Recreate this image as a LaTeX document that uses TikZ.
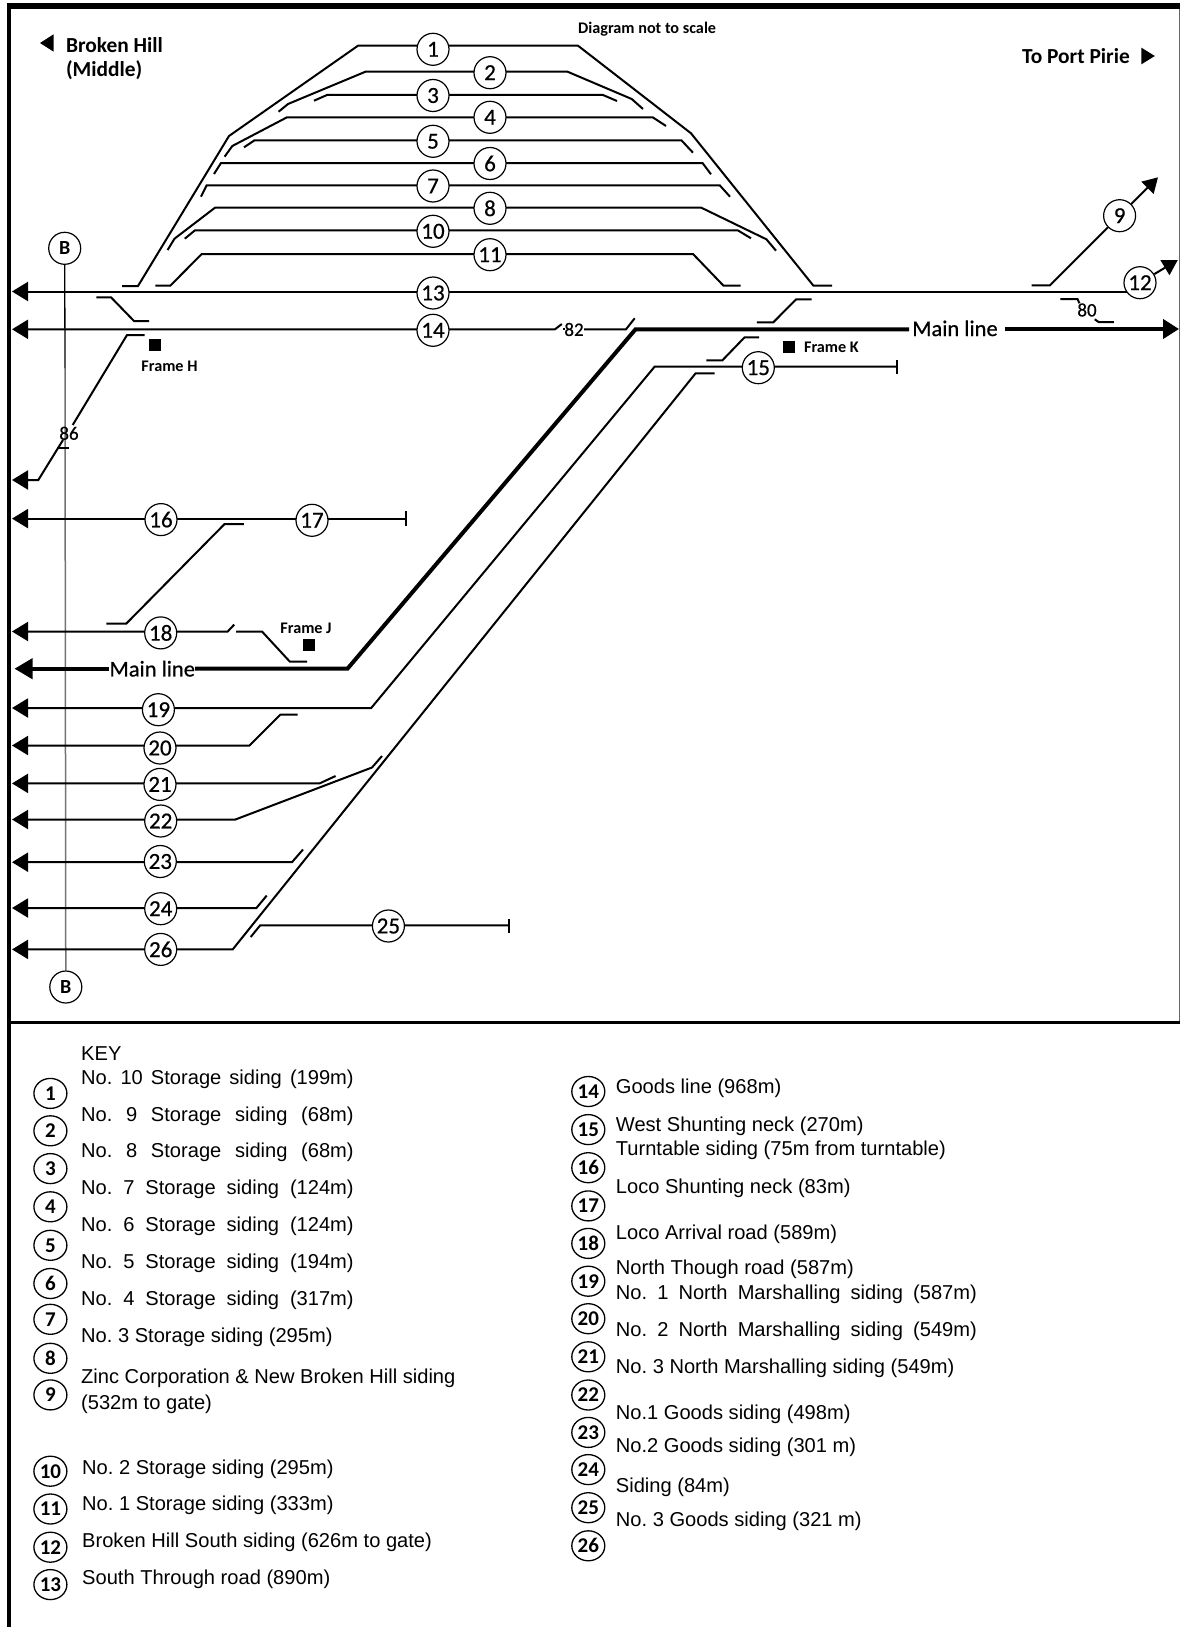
\documentclass[tikz,border=0pt]{standalone}
\usepackage{fontspec}
\setmainfont{Liberation Sans}
\newfontfamily\lab{Carlito}
\newfontfamily\labm[FakeBold=0.6]{Carlito}
\frenchspacing
\usetikzlibrary{arrows.meta,backgrounds,shapes.geometric}
\tikzset{
  trk/.style={draw=black,line width=2pt,line join=miter},
  thick trk/.style={draw=black,line width=4pt},
  larr/.style={{Triangle[length=16pt,width=19pt]}-},
  rarr/.style={-{Triangle[length=16pt,width=19pt]}},
  smallarr/.style={-{Triangle[length=15pt,width=17pt]}},
  numc/.style={circle,draw=black,fill=white,line width=1.2pt,inner sep=0pt,minimum size=32pt,font=\labm\fontsize{23}{23}\selectfont},
  keyc/.style={ellipse,draw=black,fill=white,line width=1.3pt,inner sep=0pt,minimum width=33pt,minimum height=30pt,font=\lab\bfseries\fontsize{21}{21}\selectfont},
  keyt/.style={anchor=west,inner sep=0pt,font=\fontsize{20.1}{20}\selectfont,text height=14pt,text depth=4pt,yshift=-1.8pt},
  lbl/.style={inner sep=0pt,font=\lab\bfseries\fontsize{21.4}{21}\selectfont},
  small lbl/.style={inner sep=0pt,font=\lab\bfseries\fontsize{16.2}{16}\selectfont},
  dist lbl/.style={inner sep=0pt,font=\labm\fontsize{19}{19}\selectfont},
  mainlbl/.style={inner sep=0pt,font=\labm\fontsize{22.5}{22}\selectfont},
  framebox/.style={fill=black,minimum size=12pt,inner sep=0pt},
  bar/.style={draw=black,line width=2pt}
}
\begin{document}
\begin{tikzpicture}[x=1pt,y=-1pt]
\useasboundingbox (0,0) rectangle (1180,1627);
% --- track-number circles
\foreach \n/\px/\py in {1/433/49.3,2/490/72.7,3/433/95.5,4/490/117.3,5/433/141.3,6/490/163.5,7/433/186,8/490/208.3,
  9/1119.6/215.7,10/433/231.3,11/490/254.7,12/1140/282.7,13/433/293,14/433/330.3,15/758.3/367.7,16/161/519.6,17/312/520.3,
  18/160.7/632.9,19/158.4/709.7,20/160/748,21/160/784.4,22/160.7/821,23/160.3/861.5,24/160.7/908.7,25/388.4/926,26/160.7/949.4}
  {\node[numc] (t\n) at (\px,\py) {\n};}
\node[numc,font=\lab\bfseries\fontsize{20}{20}\selectfont] (Btop) at (64.7,248.3) {B};
\node[numc,font=\lab\bfseries\fontsize{20}{20}\selectfont] (Bbot) at (65.8,987) {B};
% --- labels
\node[lbl,anchor=west] (bh1) at (65.8,45) {Broken Hill};
\node[lbl,anchor=west] (bh2) at (65.8,70) {(Middle)};
\node[small lbl,anchor=west] (nts) at (578,28.7) {Diagram not to scale};
\node[lbl,anchor=east] (pp) at (1130,55.7) {To Port Pirie};
\fill (40,43) -- (53.6,34.3) -- (53.6,51.7) -- cycle;
\fill (1154.8,56) -- (1141.4,47.7) -- (1141.4,64.3) -- cycle;
\node[dist lbl] (l82) at (574,329.5) {82};
\node[dist lbl] (l80) at (1087,310) {80};
\node[dist lbl] (l86) at (69,433.3) {86};
\node[small lbl] (fh) at (169.5,366.7) {Frame H};
\node[framebox] (fhs) at (155,345) {};
\node[small lbl] (fk) at (831.4,347.7) {Frame K};
\node[framebox] (fks) at (788.6,347.3) {};
\node[small lbl] (fj) at (306,628) {Frame J};
\node[framebox] (fjs) at (308.8,644.6) {};
\node[mainlbl] (ml1) at (955,328.3) {Main line};
\node[mainlbl] (ml2) at (152.3,668.7) {Main line};
% --- key
\node[keyt] (kk) at (81,1053.3) {KEY};
\foreach \n/\py/\txt in {1/1077.7/No. 10 Storage siding (199m),2/1115/No. 9 Storage siding (68m),3/1151/No. 8 Storage siding (68m),
  4/1188/No. 7 Storage siding (124m),5/1225/No. 6 Storage siding (124m),6/1262/No. 5 Storage siding (194m),7/1299/No. 4 Storage siding (317m)}
  {\node[keyt] (ka\n) at (81,\py) {\makebox[272.5pt][s]{\txt}};}
\node[keyt] (ka8) at (81,1336) {No. 3 Storage siding (295m)};
\node[keyt] (ka9) at (81,1376.8) {Zinc Corporation \& New Broken Hill siding};
\node[keyt] (ka9b) at (81,1402.4) {(532m to gate)};
\node[keyt] (ka10) at (82,1467.7) {No. 2 Storage siding (295m)};
\node[keyt] (ka11) at (82,1504) {No. 1 Storage siding (333m)};
\node[keyt] (ka12) at (82,1540.5) {Broken Hill South siding (626m to gate)};
\node[keyt] (ka13) at (82,1578) {South Through road (890m)};
\foreach \n/\py in {1/1093.4,2/1130.8,3/1168.6,4/1206.8,5/1245.3,6/1283.5,7/1319.3,8/1358.3,9/1394.9,10/1471.2,11/1509,12/1547.2,13/1584.6}
  {\node[keyc] (kc\n) at (50.4,\py) {\n};}
\foreach \n/\py in {14/1091.5,15/1129.6,16/1167.7,17/1205.9,18/1243.4,19/1281.2,20/1318.7,21/1356.8,22/1395,23/1432.4,24/1469.6,25/1507.7,26/1545.8}
  {\node[keyc] (kc\n) at (588.3,\py) {\n};}
\node[keyt] (kb14) at (615.7,1086.5) {Goods line (968m)};
\node[keyt] (kb15) at (615.7,1125) {West Shunting neck (270m)};
\node[keyt] (kb16) at (615.7,1148.7) {Turntable siding (75m from turntable)};
\node[keyt] (kb17) at (615.7,1186.6) {Loco Shunting neck (83m)};
\node[keyt] (kb18) at (615.7,1232.4) {Loco Arrival road (589m)};
\node[keyt] (kb19) at (615.7,1267.2) {North Though road (587m)};
\node[keyt] (kb20) at (615.7,1292.5) {\makebox[361pt][s]{No. 1 North Marshalling siding (587m)}};
\node[keyt] (kb21) at (615.7,1329.6) {\makebox[361pt][s]{No. 2 North Marshalling siding (549m)}};
\node[keyt] (kb22) at (615.7,1366.4) {No. 3 North Marshalling siding (549m)};
\node[keyt] (kb23) at (615.7,1412.9) {No.1 Goods siding (498m)};
\node[keyt] (kb24) at (615.7,1446) {No.2 Goods siding (301 m)};
\node[keyt] (kb25) at (615.7,1485.8) {Siding (84m)};
\node[keyt] (kb26) at (615.7,1519.7) {No. 3 Goods siding (321 m)};
% --- everything behind the nodes
\begin{scope}[on background layer]
\fill[white] (0,0) rectangle (1180,1627);
% frame
\draw[black!60,line width=1pt] (1179,6) -- (1179,1022);
\draw[black,line width=5.4pt] (7,6) -- (1180,6);
\draw[black,line width=4.5pt] (9.2,3.3) -- (9.2,1627);
\draw[black,line width=3pt] (11,1022) -- (1180,1022);
% B line
\draw[black!55,line width=1.5pt] (65,368) -- (Bbot);
\draw[black,line width=1.3pt] (Btop) -- (65,368);
% storage roads
\draw[trk] (122,286) -- (138,286) -- (229,136) -- (358,45.7) -- (578,45.7) -- (691,133.3) -- (813.4,285.7) -- (832,285.7);
\draw[trk] (278.6,111.7) -- (288,104) -- (365.5,71.7) -- (567.5,71.7) -- (631.7,99) -- (643,109);
\draw[trk] (314,100.7) -- (327,95) -- (603,95) -- (617,101);
\draw[trk] (224.6,156.7) -- (232.3,146) -- (287,117.3) -- (652.7,117.3) -- (666,126);
\draw[trk] (244,147.3) -- (254.5,140.3) -- (681.4,140.3) -- (693,152.7);
\draw[trk] (214,174) -- (221,163) -- (702.5,163) -- (711,174.3);
\draw[trk] (201,196.7) -- (206.7,185.3) -- (719.7,185.3) -- (730,196.7);
\draw[trk] (167.6,250) -- (174.5,238.7) -- (215,207.7) -- (701.3,207.7) -- (766.4,239.3) -- (776,250.7);
\draw[trk] (184.8,238.7) -- (195,230.3) -- (737.7,230.3) -- (751,238.3);
\draw[trk] (155.4,285.7) -- (170.3,285.7) -- (201.7,254) -- (693,254) -- (723.5,285.7) -- (740.7,285.7);
% 13, 12, 9
\draw[trk,larr] (12,291.5) -- (1140,291.5);
\draw[trk,smallarr] (t12) -- (1177.8,260);
\draw[trk,smallarr] (1031.6,285.3) -- (1050,285.3) -- (t9) -- (1158,177.3);
% 14
\draw[trk,larr] (12,329.3) -- (555,329.3) -- (561.8,324);
\draw[trk] (563,329.3) -- (565,329.3);
\draw[trk] (584,329.3) -- (626,329.3) -- (634.7,318.3);
% main line
\draw[thick trk,rarr] (1005,329) -- (1179,329);
\draw[thick trk] (909,329.3) -- (635.5,329.3) -- (347.5,668.7) -- (ml2.east);
\draw[thick trk,{Triangle[length=18pt,width=20pt]}-] (14.5,668.7) -- (ml2.west);
% crossovers
\draw[trk] (96.4,297.3) -- (111,297.3) -- (134,321) -- (149,321);
\draw[trk] (756.8,322.3) -- (773.3,322.3) -- (796.2,299.3) -- (811.5,299.3);
\draw[trk] (1060.3,299) -- (1077.5,299) -- (1079.4,303.3);
\draw[trk] (1094.7,319.3) -- (1098.6,322) -- (1113.9,322);
\draw[trk] (706.3,360.3) -- (722.4,360.3) -- (744.6,337.3) -- (759,337.3);
% 86
\draw[trk] (144.7,335) -- (127,335) -- (72.7,425);
\draw[trk] (57.4,447.7) -- (69,447.7);
\draw[trk,larr] (12,480) -- (38.3,480) -- (63,440);
% 15 / 19
\draw[trk,larr] (12,708) -- (371.2,708) -- (654.6,366.7) -- (896.5,366.7);
\draw[bar] (896.5,360) -- (896.5,374.3);
% 26
\draw[trk,larr] (12,949.4) -- (232.7,949.4) -- (695.6,373.3) -- (714.7,373.3);
% 16 / 17
\draw[trk,larr] (12,518.6) -- (405.7,518.6);
\draw[bar] (405.7,511) -- (405.7,525.8);
\draw[trk] (243.8,524) -- (224.6,524) -- (126.3,623.6) -- (106.4,623.6);
% 18
\draw[trk,larr] (12,631.5) -- (227.7,631.5) -- (234.2,624.6);
\draw[trk] (236,631.5) -- (262,631.5) -- (289.7,661.5) -- (307,661.5);
% 20-24
\draw[trk,larr] (12,745.5) -- (249.5,745.5) -- (280.5,714.5) -- (297.7,714.5);
\draw[trk,larr] (12,783.4) -- (319.6,783.4) -- (335.6,776);
\draw[trk,larr] (12,819.5) -- (235.4,819.5) -- (372,767.5) -- (382,756);
\draw[trk,larr] (12,862.2) -- (292,862.2) -- (303,849.5);
\draw[trk,larr] (12,908) -- (256.4,908) -- (266.7,895.6);
% 25
\draw[trk] (250.7,937) -- (260.2,925.3) -- (509,925.3);
\draw[bar] (509,919) -- (509,933);
\end{scope}
\end{tikzpicture}
\end{document}
